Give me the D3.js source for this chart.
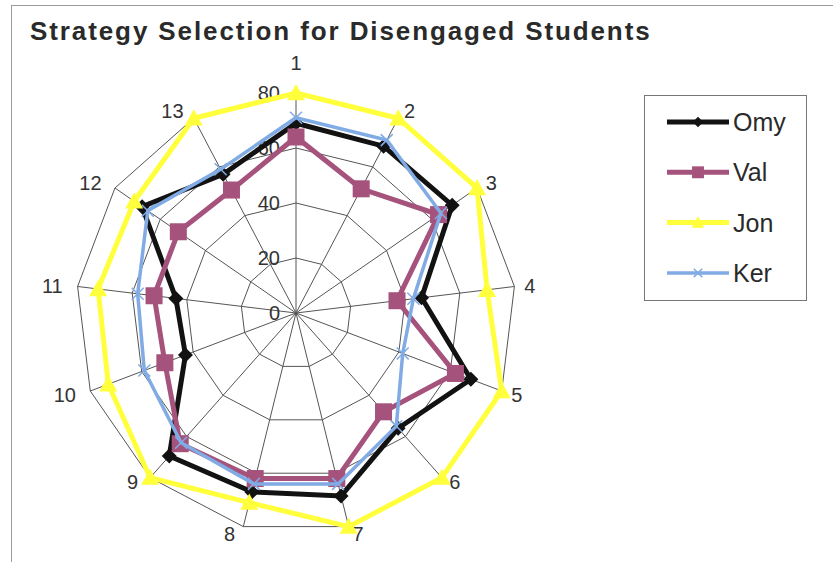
<!DOCTYPE html>
<html>
<head>
<meta charset="utf-8">
<script src="https://cdn.jsdelivr.net/npm/d3@7"></script>
<style>
  html, body { margin: 0; padding: 0; background: #fff; }
  svg { display: block; }
  text { font-family: "Liberation Sans", Arial, sans-serif; }
</style>
</head>
<body>
<svg id="chart" width="833" height="562"></svg>
<script>
// Strategy categories (one spoke each)
const categories = ["1", "2", "3", "4", "5", "6", "7", "8", "9", "10", "11", "12", "13"];
// Radial tick values
const tickValues = [0, 20, 40, 60, 80];
// Series values per category
const seriesNames = ["Omy", "Val", "Jon", "Ker"];
const omy = [69, 68.5, 69, 46, 68, 56, 68.5, 67, 69.5, 43, 44, 68, 57];
const val = [64, 51, 63, 37, 62, 48, 62, 62, 63.5, 51, 52, 52, 50.5];
const jon = [80, 80, 80, 70, 80, 80, 80, 71, 80, 73, 72.5, 71.5, 80];
const ker = [71, 71, 64, 43, 41.5, 55, 64, 64, 63, 59, 58, 65.5, 59];

const svg = d3.select("#chart");
const W = 833, H = 562;
const cx = 296, cy = 313, R = 220;

// chart frame
svg.append("rect").attr("x", 11.5).attr("y", 5.5).attr("width", W + 20).attr("height", H + 20)
  .attr("fill", "#fff").attr("stroke", "#9a9a9a").attr("stroke-width", 1);

// title
svg.append("text").attr("x", 30).attr("y", 40)
  .attr("font-size", 26).attr("font-weight", "bold").attr("fill", "#2a2a2a")
  .attr("letter-spacing", 1.9)
  .text("Strategy Selection for Disengaged Students");

const r = d3.scaleLinear().domain([0, 80]).range([0, R]);
const angle = d3.scaleLinear().domain([0, categories.length]).range([0, 2 * Math.PI]);

const g = svg.append("g").attr("transform", `translate(${cx},${cy})`);

const pt = (i, v) => [r(v) * Math.sin(angle(i)), -r(v) * Math.cos(angle(i))];

// web gridlines (polygon rings)
const ring = d3.lineRadial().angle((d, i) => angle(i)).radius(d => r(d)).curve(d3.curveLinearClosed);
tickValues.filter(t => t > 0).forEach(t => {
  g.append("path").attr("d", ring(categories.map(() => t)))
    .attr("fill", "none").attr("stroke", "#555").attr("stroke-width", 1);
});
// spokes
categories.forEach((c, i) => {
  const [x, y] = pt(i, 80);
  g.append("line").attr("x1", 0).attr("y1", 0).attr("x2", x).attr("y2", y)
    .attr("stroke", "#555").attr("stroke-width", 1);
});

// tick labels along the first spoke
tickValues.forEach(t => {
  g.append("text").attr("x", -16).attr("y", -r(t)).attr("dy", "0.35em")
    .attr("text-anchor", "end").attr("font-size", 20).attr("fill", "#333").text(t);
});

// category labels outside the outer ring
categories.forEach((c, i) => {
  const a = angle(i), s = Math.sin(a), co = Math.cos(a);
  const [ex, ey] = pt(i, 80);
  const top = Math.abs(s) < 0.1;
  const anchor = top ? "middle" : (s > 0 ? "start" : "end");
  const x = top ? ex : (s > 0 ? ex + 2 + 8 * s : ex - 6 + 9 * s);
  let y;
  if (top) y = ey - 30;
  else if (co < -0.9) y = ey + 7;
  else if (co < -0.3) y = ey + 4;
  else y = ey - 8 * co;
  g.append("text").attr("x", x).attr("y", y).attr("dy", "0.35em")
    .attr("text-anchor", anchor).attr("font-size", 20).attr("fill", "#333").text(c);
});

const styles = {
  Omy: { color: "#121212", width: 5, symbol: "diamond", size: 15 },
  Val: { color: "#a5527c", width: 5, symbol: "square", size: 17 },
  Jon: { color: "#ffff3c", width: 5, symbol: "triangle", size: 18 },
  Ker: { color: "#80abe4", width: 3.5, symbol: "x", size: 12 }
};
const data = { Omy: omy, Val: val, Jon: jon, Ker: ker };

function marker(sel, st, x, y, scale) {
  const s = st.size * (scale || 1);
  if (st.symbol === "diamond") {
    const h = s / 2;
    sel.append("path").attr("d", `M${x},${y - h}L${x + h},${y}L${x},${y + h}L${x - h},${y}Z`).attr("fill", st.color);
  } else if (st.symbol === "square") {
    sel.append("rect").attr("x", x - s / 2).attr("y", y - s / 2).attr("width", s).attr("height", s).attr("fill", st.color);
  } else if (st.symbol === "triangle") {
    const h = s / 2;
    sel.append("path").attr("d", `M${x},${y - h}L${x + h},${y + h * 0.8}L${x - h},${y + h * 0.8}Z`).attr("fill", st.color);
  } else {
    const h = s / 2;
    sel.append("path").attr("d", `M${x - h},${y - h}L${x + h},${y + h}M${x - h},${y + h}L${x + h},${y - h}`)
      .attr("stroke", st.color).attr("stroke-width", 1.5).attr("fill", "none");
  }
}

const line = d3.lineRadial().angle((d, i) => angle(i)).radius(d => r(d)).curve(d3.curveLinearClosed);
seriesNames.forEach(name => {
  const st = styles[name];
  const sg = g.append("g");
  sg.append("path").attr("d", line(data[name])).attr("fill", "none")
    .attr("stroke", st.color).attr("stroke-width", st.width).attr("stroke-linejoin", "miter");
  data[name].forEach((v, i) => {
    const [x, y] = pt(i, v);
    marker(sg, st, x, y);
  });
});

// legend
const lg = svg.append("g");
lg.append("rect").attr("x", 644.5).attr("y", 95.5).attr("width", 162).attr("height", 205)
  .attr("fill", "#fff").attr("stroke", "#777").attr("stroke-width", 1);
seriesNames.forEach((name, k) => {
  const st = styles[name];
  const y = 122 + k * 50.3;
  lg.append("line").attr("x1", 667).attr("x2", 729).attr("y1", y).attr("y2", y)
    .attr("stroke", st.color).attr("stroke-width", st.width);
  marker(lg, st, 698, y, 0.7);
  lg.append("text").attr("x", 733).attr("y", y).attr("dy", "0.36em")
    .attr("font-size", 25).attr("fill", "#2a2a2a").text(name);
});
</script>
</body>
</html>
